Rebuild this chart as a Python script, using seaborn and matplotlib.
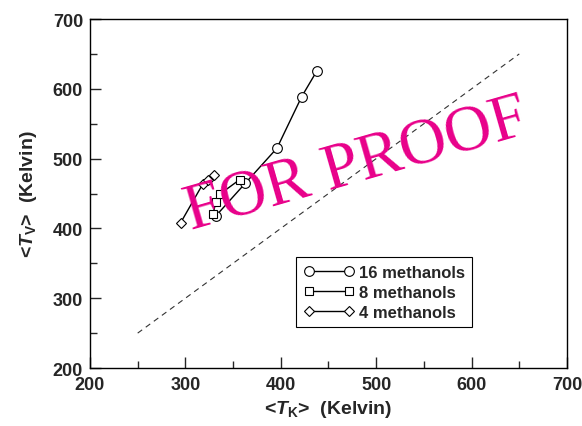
import numpy as np
import pandas as pd
import matplotlib
matplotlib.use('Agg')
import matplotlib.pyplot as plt
import seaborn as sns

# data
tk_16 = [332, 363, 396, 422, 438]
tv_16 = [418, 465, 515, 589, 626]
tk_8 = [329, 332, 336, 357]
tv_8 = [421, 438, 449, 470]
tk_4 = [295, 318, 324, 330]
tv_4 = [408, 463, 470, 477]
diag = [250, 650]

sns.set_style('ticks')
plt.rcParams['font.family'] = ['Liberation Sans', 'DejaVu Sans']
plt.rcParams['font.weight'] = 'bold'
plt.rcParams['mathtext.fontset'] = 'custom'
plt.rcParams['mathtext.rm'] = 'Liberation Sans:bold'
plt.rcParams['mathtext.it'] = 'Liberation Sans:italic:bold'

fig = plt.figure(figsize=(5.82, 4.27), dpi=100)
ax = fig.add_axes([0.1546, 0.1358, 0.8196, 0.8173])

ax.plot(diag, diag, color='#333333', lw=0.8, ls=(0, (5, 4)))

series = [
    (tk_16, tv_16, 'o', 7, '16 methanols'),
    (tk_8, tv_8, 's', 6, '8 methanols'),
    (tk_4, tv_4, 'D', 5, '4 methanols'),
]
for xs, ys, mk, ms, lab in series:
    df = pd.DataFrame({'x': xs, 'y': ys})
    sns.lineplot(data=df, x='x', y='y', ax=ax, sort=False, color='black', lw=1,
                 marker=mk, markersize=ms, markerfacecolor='white',
                 markeredgecolor='black', markeredgewidth=0.8, label=lab)

ax.set_xlim(200, 700)
ax.set_ylim(200, 700)
ax.set_xticks(np.arange(200, 701, 100))
ax.set_yticks(np.arange(200, 701, 100))
ax.set_xticks(np.arange(250, 700, 100), minor=True)
ax.set_yticks(np.arange(250, 700, 100), minor=True)
ax.tick_params(which='both', direction='in', top=False, right=False,
               labelsize=13, width=1)
ax.tick_params(which='major', length=8)
ax.tick_params(which='minor', length=5)
ax.tick_params(axis='x', pad=6)
ax.tick_params(axis='y', pad=5)
for lbl in ax.get_xticklabels() + ax.get_yticklabels():
    lbl.set_fontweight('bold')
for sp in ax.spines.values():
    sp.set_linewidth(1)
    sp.set_color('black')

ax.set_xlabel(r'<$\mathit{T}_{\mathrm{K}}$>  (Kelvin)', fontsize=14, fontweight='bold', labelpad=3)
ax.set_ylabel(r'<$\mathit{T}_{\mathrm{V}}$>  (Kelvin)', fontsize=14, fontweight='bold', labelpad=10)

leg = ax.legend(loc='lower left', bbox_to_anchor=(0.432, 0.117), borderaxespad=0,
                numpoints=2, frameon=True, fancybox=False, edgecolor='black',
                framealpha=1, prop={'weight': 'bold', 'size': 12}, handlelength=3.0,
                handletextpad=0.3, borderpad=0.45, labelspacing=0.3)
leg.get_frame().set_linewidth(0.8)

ax.text(0.558, 0.582, 'FOR PROOF', transform=ax.transAxes, fontsize=47,
        family=['Liberation Serif'], fontweight='normal', color='#e8008a',
        rotation=16, ha='center', va='center', rotation_mode='anchor')

fig.savefig('out.png', dpi=100)
